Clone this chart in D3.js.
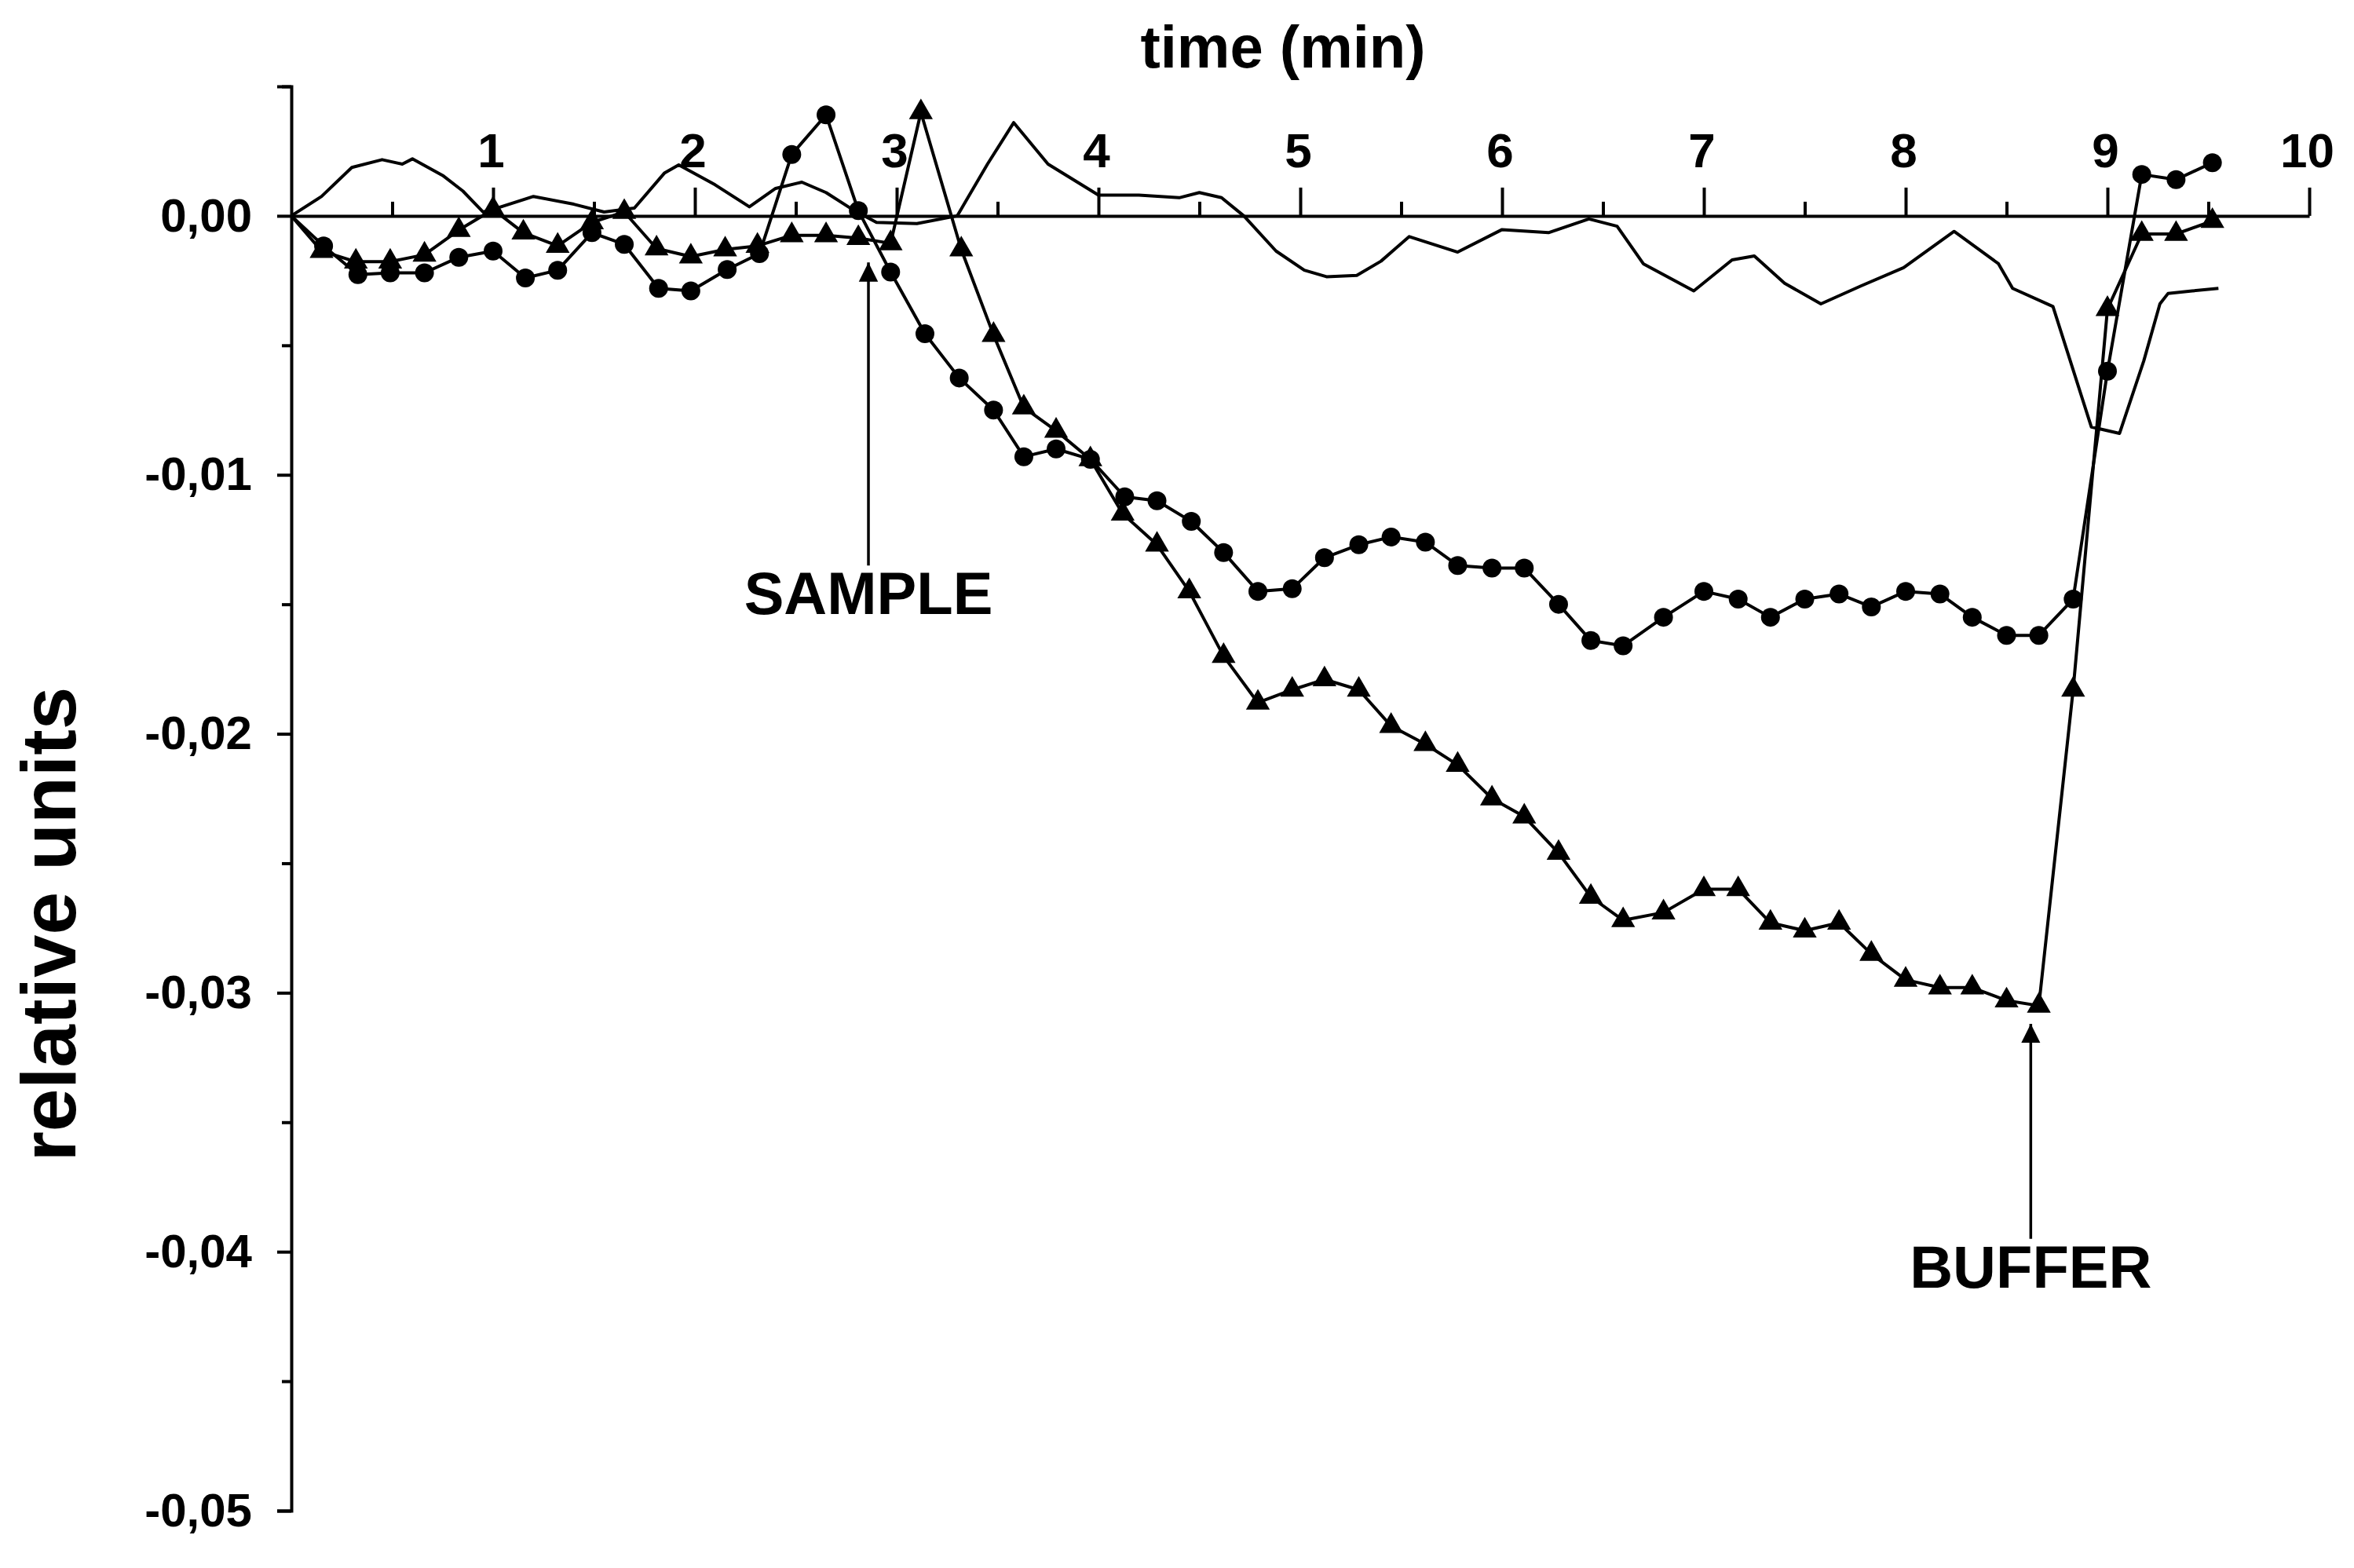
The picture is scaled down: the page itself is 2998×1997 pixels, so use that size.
<!DOCTYPE html>
<html>
<head>
<meta charset="utf-8">
<script src="https://cdn.jsdelivr.net/npm/d3@7"></script>
<style>
  body { margin: 0; background: #fff; }
  text { font-family: "Liberation Sans", Arial, sans-serif; font-weight: bold; fill: #000; }
</style>
</head>
<body>
<svg id="chart" width="2998" height="1997"></svg>
<script>
// plain trace (no markers): [time, value*1000]
var plainTrace = [
  [0,0],[0.15,0.75],[0.3,1.87],[0.45,2.17],[0.55,2.0],[0.6,2.2],[0.75,1.56],[0.85,0.96],[0.95,0.15],
  [1.0,0.25],[1.2,0.75],[1.4,0.45],[1.55,0.15],[1.7,0.3],[1.85,1.66],[1.92,1.97],[2.1,1.2],[2.27,0.35],
  [2.4,1.06],[2.53,1.3],[2.65,0.9],[2.78,0.25],[2.9,-0.25],[3.1,-0.3],[3.3,0],[3.45,2.0],[3.58,3.6],
  [3.75,2.0],[4.0,0.8],[4.2,0.8],[4.4,0.7],[4.5,0.9],[4.61,0.7],[4.72,0],[4.88,-1.36],[5.02,-2.1],
  [5.13,-2.35],[5.28,-2.3],[5.4,-1.75],[5.54,-0.8],[5.78,-1.4],[6.0,-0.53],[6.23,-0.65],[6.43,-0.12],
  [6.57,-0.4],[6.7,-1.85],[6.95,-2.9],[7.14,-1.7],[7.25,-1.55],[7.4,-2.6],[7.58,-3.4],[7.78,-2.7],
  [7.99,-2.0],[8.24,-0.6],[8.46,-1.85],[8.53,-2.8],[8.73,-3.5],[8.92,-8.15],[9.06,-8.4],[9.18,-5.6],
  [9.26,-3.4],[9.3,-3.0],[9.42,-2.9],[9.55,-2.8]
];

// circle series: marker points [time, value*1000]
var circleSeries = [
  [0,0],[0.16,-1.16],[0.33,-2.27],[0.49,-2.2],[0.66,-2.2],[0.83,-1.6],[1.0,-1.36],[1.16,-2.4],[1.32,-2.1],
  [1.49,-0.65],[1.65,-1.1],[1.82,-2.8],[1.98,-2.9],[2.16,-2.07],[2.32,-1.46],[2.48,2.37],[2.65,3.9],
  [2.81,0.2],[2.97,-2.17],[3.14,-4.55],[3.31,-6.26],[3.48,-7.5],[3.63,-9.3],[3.79,-9.0],[3.96,-9.4],
  [4.13,-10.85],[4.29,-11.0],[4.46,-11.8],[4.62,-13.0],[4.79,-14.5],[4.96,-14.4],[5.12,-13.2],
  [5.29,-12.7],[5.45,-12.4],[5.62,-12.6],[5.78,-13.5],[5.95,-13.6],[6.11,-13.6],[6.28,-15.0],
  [6.44,-16.4],[6.6,-16.6],[6.8,-15.5],[7.0,-14.5],[7.17,-14.8],[7.33,-15.5],[7.5,-14.8],[7.67,-14.6],
  [7.83,-15.1],[8.0,-14.5],[8.17,-14.6],[8.33,-15.5],[8.5,-16.2],[8.66,-16.2],[8.83,-14.8],[9.0,-6.0],
  [9.17,1.6],[9.34,1.4],[9.52,2.05]
];

// triangle series: marker points [time, value*1000]
var triangleSeries = [
  [0,0],[0.15,-1.36],[0.32,-1.77],[0.49,-1.77],[0.66,-1.5],[0.83,-0.55],[1.0,0.25],[1.15,-0.65],
  [1.32,-1.16],[1.49,-0.25],[1.65,0.15],[1.81,-1.26],[1.98,-1.57],[2.15,-1.3],[2.31,-1.16],[2.48,-0.75],
  [2.65,-0.75],[2.81,-0.86],[2.97,-1.06],[3.12,4.0],[3.32,-1.3],[3.48,-4.6],[3.63,-7.4],[3.79,-8.3],
  [3.96,-9.4],[4.12,-11.5],[4.29,-12.7],[4.45,-14.5],[4.62,-17.0],[4.79,-18.8],[4.96,-18.3],[5.12,-17.9],
  [5.29,-18.3],[5.45,-19.7],[5.62,-20.4],[5.78,-21.2],[5.95,-22.5],[6.11,-23.2],[6.28,-24.6],[6.44,-26.3],
  [6.6,-27.2],[6.8,-26.9],[7.0,-26.0],[7.17,-26.0],[7.33,-27.3],[7.5,-27.6],[7.67,-27.3],[7.83,-28.5],
  [8.0,-29.5],[8.17,-29.8],[8.33,-29.8],[8.5,-30.3],[8.66,-30.5],[8.83,-18.3],[9.0,-3.6],[9.17,-0.7],
  [9.34,-0.7],[9.52,-0.2]
];

var xTicks = [1, 2, 3, 4, 5, 6, 7, 8, 9, 10];
var yTicks = [0, -0.01, -0.02, -0.03, -0.04, -0.05];

// arrows: [label, time, value at tip, value at tail]
var annotations = [
  ["SAMPLE", 2.86, -0.0018, -0.0135],
  ["BUFFER", 8.62, -0.0312, -0.0395]
];

var svg = d3.select("#chart");

var xScale = d3.scaleLinear().domain([0, 10]).range([371, 2941]);
var yScale = d3.scaleLinear().domain([-0.05, 0.005]).range([1924, 110]);

// y axis
var yAxis = d3.axisLeft(yScale)
    .tickValues(d3.range(-0.05, 0.0051, 0.005))
    .tickSize(18)
    .tickFormat(function (d) {
        var r = Math.round(d * 1000);
        if (r % 10 !== 0) return "";
        return d3.format(".2f")(d).replace(".", ",").replace("−", "-");
    });

var gy = svg.append("g")
    .attr("transform", "translate(" + xScale(0) + ",0)")
    .call(yAxis);
gy.select(".domain").attr("stroke-width", 4);
gy.selectAll(".tick line").attr("stroke-width", 4)
    .attr("x2", function (d) { return Math.round(d * 1000) % 10 === 0 ? -18 : -12; });
gy.selectAll(".tick text").attr("font-size", 60).attr("x", -50)
    .style("font-family", "Liberation Sans, Arial, sans-serif").style("font-weight", "bold");

// x axis at y=0
var xAxis = d3.axisTop(xScale)
    .tickValues(d3.range(0.5, 10.01, 0.5))
    .tickSize(18)
    .tickSizeOuter(0)
    .tickFormat(function (d) { return xTicks.indexOf(d) >= 0 ? d : ""; });

var gx = svg.append("g")
    .attr("transform", "translate(0," + yScale(0) + ")")
    .call(xAxis);
gx.select(".domain").attr("stroke-width", 4);
gx.selectAll(".tick line").attr("stroke-width", 4)
    .attr("y2", function (d) { return d % 1 === 0 ? -36 : -18; });
gx.selectAll(".tick text").attr("font-size", 62).attr("y", -62).attr("dx", -3)
    .style("font-family", "Liberation Sans, Arial, sans-serif").style("font-weight", "bold");

// axis titles
svg.append("text")
    .attr("x", 1634).attr("y", 86)
    .attr("text-anchor", "middle")
    .attr("font-size", 76)
    .text("time (min)");

svg.append("text")
    .attr("transform", "translate(96," + 1177 + ") rotate(-90)")
    .attr("text-anchor", "middle")
    .attr("font-size", 98)
    .text("relative units");

var line = d3.line()
    .x(function (d) { return xScale(d[0]); })
    .y(function (d) { return yScale(d[1] / 1000); });

[plainTrace, circleSeries, triangleSeries].forEach(function (s) {
    svg.append("path")
        .datum(s)
        .attr("d", line)
        .attr("fill", "none")
        .attr("stroke", "#000")
        .attr("stroke-width", 4)
        .attr("stroke-linejoin", "round");
});

svg.selectAll(".dot")
    .data(circleSeries.slice(1))
    .enter().append("circle")
    .attr("class", "dot")
    .attr("cx", function (d) { return xScale(d[0]); })
    .attr("cy", function (d) { return yScale(d[1] / 1000); })
    .attr("r", 12)
    .attr("fill", "#000");

var tri = d3.symbol().type(d3.symbolTriangle).size(400);
svg.selectAll(".tri")
    .data(triangleSeries.slice(1))
    .enter().append("path")
    .attr("class", "tri")
    .attr("d", tri)
    .attr("transform", function (d) {
        return "translate(" + xScale(d[0]) + "," + yScale(d[1] / 1000) + ")";
    })
    .attr("fill", "#000");

// annotation arrows
svg.append("defs").append("marker")
    .attr("id", "head")
    .attr("viewBox", "0 0 10 10")
    .attr("refX", 10).attr("refY", 5)
    .attr("markerWidth", 7).attr("markerHeight", 9)
    .attr("markerUnits", "strokeWidth")
    .attr("orient", "auto")
    .append("path").attr("d", "M0,0 L10,5 L0,10 z").attr("fill", "#000");

annotations.forEach(function (a) {
    svg.append("line")
        .attr("x1", xScale(a[1])).attr("x2", xScale(a[1]))
        .attr("y1", yScale(a[3])).attr("y2", yScale(a[2]))
        .attr("stroke", "#000").attr("stroke-width", 3.5)
        .attr("marker-end", "url(#head)");
    svg.append("text")
        .attr("x", xScale(a[1])).attr("y", yScale(a[3]) + 62)
        .attr("text-anchor", "middle")
        .attr("font-size", 76)
        .text(a[0]);
});
</script>
</body>
</html>
